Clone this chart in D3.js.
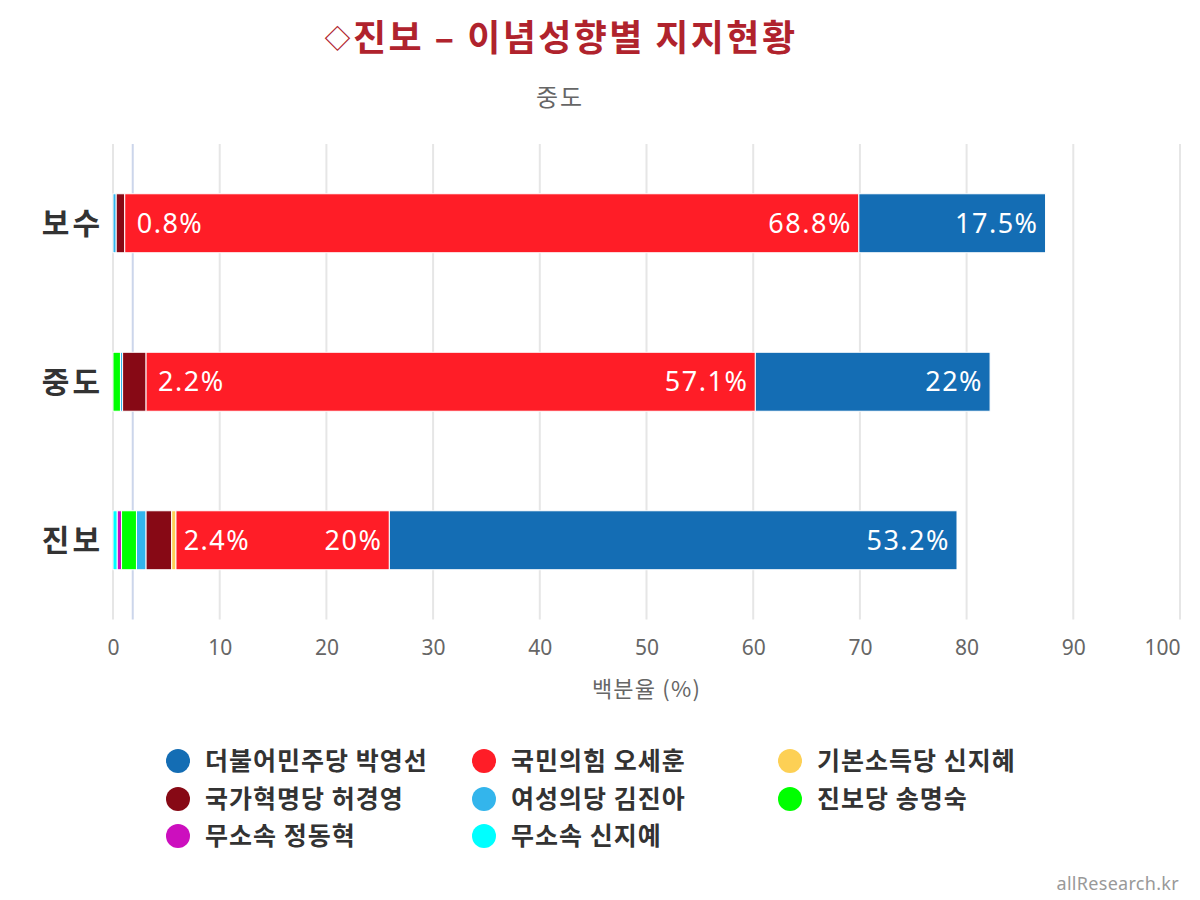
<!DOCTYPE html>
<html>
<head>
<meta charset="utf-8">
<script src="https://cdn.jsdelivr.net/npm/d3@7"></script>
<style>
  html, body { margin: 0; padding: 0; background: #fff; }
  svg { display: block; }
</style>
</head>
<body>
<svg id="chart" width="1200" height="900"></svg>
<script>
// ---------- data ----------
const categories = ["보수", "중도", "진보"];
const seriesNames = ["더불어민주당 박영선", "국민의힘 오세훈", "기본소득당 신지혜", "국가혁명당 허경영", "여성의당 김진아", "진보당 송명숙", "무소속 정동혁", "무소속 신지예"];
const seriesColors = ["#146db4", "#ff1d27", "#fdd055", "#870915", "#33b5ec", "#00ff00", "#cc0fbe", "#00ffff"];
// values per series, in category order [보수, 중도, 진보]
const v_minju   = [17.5, 22, 53.2];
const v_ppp     = [68.8, 57.1, 20];
const v_basic   = [0, 0, 0.4];
const v_heo     = [0.8, 2.2, 2.4];
const v_women   = [0.3, 0.2, 0.9];
const v_jinbo   = [0, 0.7, 1.4];
const v_jung    = [0, 0, 0.4];
const v_shin    = [0, 0, 0.4];
const seriesValues = [v_minju, v_ppp, v_basic, v_heo, v_women, v_jinbo, v_jung, v_shin];
const labelledSeries = [0, 1, 3]; // series that show data labels
const xTicks = [0, 10, 20, 30, 40, 50, 60, 70, 80, 90, 100];
const plotLineValue = [1.85];
const titleMark = "◇";
const titleText = "진보 – 이념성향별 지지현황";
const subtitleText = "중도";
const xAxisTitle = "백분율 (%)";
const creditText = "allResearch.kr";

// ---------- layout ----------
const KR = "'Noto Sans CJK KR', 'Noto Sans', sans-serif";
const NUM = "'Noto Sans', 'DejaVu Sans', sans-serif";
const svg = d3.select("#chart");
const plot = { left: 113, right: 1180, top: 144, bottom: 619.5 };

const x = d3.scaleLinear().domain([0, 100]).range([plot.left, plot.right]);
const y = d3.scaleBand().domain(categories).range([plot.top, plot.bottom])
  .paddingInner(0.628).paddingOuter(0.314);

// title & subtitle
const title = svg.append("text").attr("x", 561).attr("y", 51).attr("text-anchor", "middle")
  .attr("font-family", KR).attr("font-weight", "bold").attr("font-size", 36)
  .attr("letter-spacing", 2.4).attr("fill", "#b0232d");
title.append("tspan").attr("font-size", 26).attr("dy", -3).text(titleMark);
title.append("tspan").attr("dy", 3).text(titleText);
svg.append("text").attr("x", 560).attr("y", 106).attr("text-anchor", "middle")
  .attr("font-family", KR).attr("font-size", 24).attr("letter-spacing", 2)
  .attr("fill", "#666").text(subtitleText);

// gridlines
const grid = svg.append("g");
grid.selectAll("line").data(xTicks).join("line")
  .attr("x1", d => x(d)).attr("x2", d => x(d))
  .attr("y1", plot.top).attr("y2", plot.bottom)
  .attr("stroke", "#e6e6e6").attr("stroke-width", 2);

// plot line
svg.append("g").selectAll("line").data(plotLineValue).join("line")
  .attr("x1", d => x(d)).attr("x2", d => x(d))
  .attr("y1", plot.top).attr("y2", plot.bottom)
  .attr("stroke", "#ccd6eb").attr("stroke-width", 2);

// x axis tick labels
const xAxis = d3.axisBottom(x).tickValues(xTicks).tickSize(0).tickPadding(0);
const ax = svg.append("g").attr("transform", `translate(0, ${plot.bottom + 35})`).call(xAxis);
ax.select(".domain").remove();
ax.selectAll("text").attr("font-family", NUM).attr("font-size", 21).attr("fill", "#666")
  .attr("dy", 0).attr("text-anchor", (d) => d === 100 ? "end" : "middle");

// axis title
svg.append("text").attr("x", (plot.left + plot.right) / 2).attr("y", 697).attr("text-anchor", "middle")
  .attr("font-family", KR).attr("font-size", 22).attr("letter-spacing", 1.2)
  .attr("fill", "#666").text(xAxisTitle);

// category labels
svg.append("g").selectAll("text").data(categories).join("text")
  .attr("x", 103).attr("y", d => y(d) + y.bandwidth() / 2)
  .attr("dy", "0.36em").attr("text-anchor", "end")
  .attr("font-family", KR).attr("font-weight", "bold").attr("font-size", 30)
  .attr("letter-spacing", 3).attr("fill", "#333").text(d => d);

// stacked segments: stack order from left = reversed series order
const stackOrder = d3.range(seriesNames.length).reverse();
const segs = [];
categories.forEach((c, ci) => {
  let acc = 0;
  stackOrder.forEach(si => {
    const v = seriesValues[si][ci];
    segs.push({ c, si, v, x0: acc, x1: acc + v });
    acc += v;
  });
});

svg.append("g").selectAll("rect").data(segs.filter(d => d.v > 0)).join("rect")
  .attr("x", d => x(d.x0)).attr("width", d => x(d.x1) - x(d.x0))
  .attr("y", d => y(d.c)).attr("height", y.bandwidth())
  .attr("fill", d => seriesColors[d.si])
  .attr("stroke", "#fff").attr("stroke-width", 1);

// data labels
const lbl = svg.append("g");
segs.filter(d => labelledSeries.includes(d.si) && d.v > 0).forEach(d => {
  const t = lbl.append("text")
    .attr("y", y(d.c) + y.bandwidth() / 2).attr("dy", "0.36em")
    .attr("font-family", NUM).attr("font-size", 27).attr("fill", "#fff")
    .attr("letter-spacing", 1.5)
    .text(d.v + "%");
  const w = t.node().getComputedTextLength();
  const segW = x(d.x1) - x(d.x0);
  if (w + 16 > segW) {
    t.attr("x", x(d.x1) + 12).attr("text-anchor", "start");
  } else {
    t.attr("x", x(d.x1) - 7).attr("text-anchor", "end");
  }
});

// legend
const legCols = [178, 484, 790];
const legRows = [761, 799, 836];
const leg = svg.append("g");
seriesNames.forEach((name, i) => {
  const cx = legCols[i % 3], cy = legRows[Math.floor(i / 3)];
  leg.append("circle").attr("cx", cx).attr("cy", cy).attr("r", 12).attr("fill", seriesColors[i]);
  leg.append("text").attr("x", cx + 27).attr("y", cy).attr("dy", "0.36em")
    .attr("font-family", KR).attr("font-weight", "bold").attr("font-size", 25)
    .attr("letter-spacing", 1).attr("fill", "#333").text(name);
});

// credit
svg.append("text").attr("x", 1179).attr("y", 890).attr("text-anchor", "end")
  .attr("font-family", NUM).attr("font-size", 18).attr("letter-spacing", 0.3)
  .attr("fill", "#999").text(creditText);
</script>
</body>
</html>
